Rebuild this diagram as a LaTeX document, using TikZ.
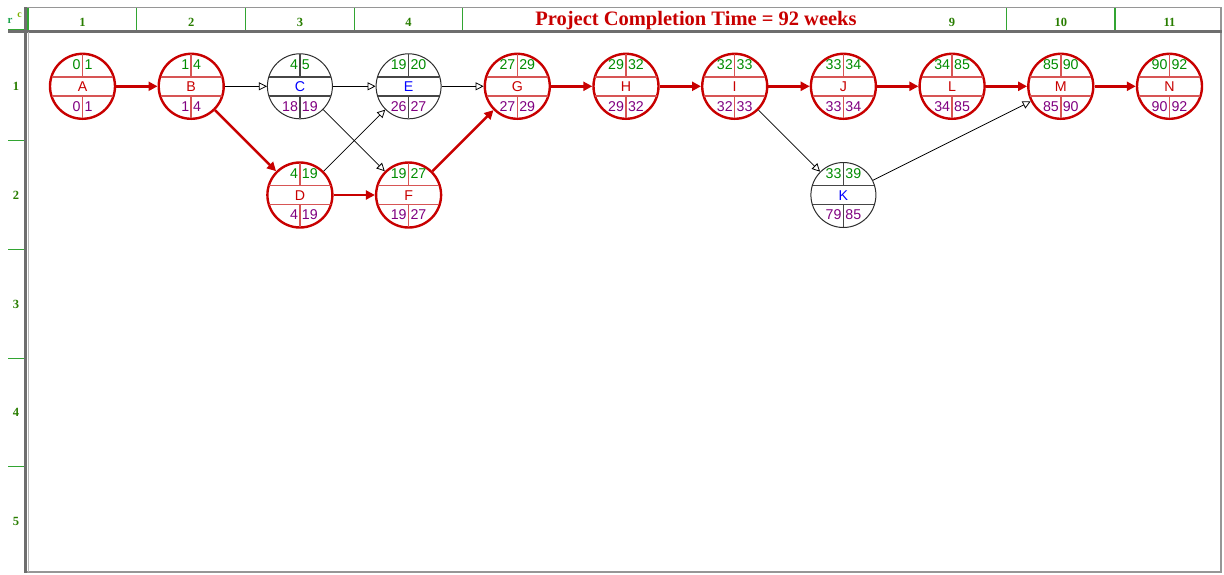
\documentclass[tikz,border=0pt]{standalone}
\usepackage{fontspec}
\setmainfont{Liberation Serif}
\setsansfont{Liberation Sans}
\usetikzlibrary{arrows.meta,calc}

\definecolor{critred}{RGB}{200,0,0}
\definecolor{critinner}{RGB}{215,85,85}
\definecolor{freeline}{RGB}{45,45,45}
\definecolor{freeinner}{RGB}{70,70,70}
\definecolor{esgreen}{RGB}{0,140,0}
\definecolor{lspurple}{RGB}{128,0,128}
\definecolor{actblue}{RGB}{0,0,255}
\definecolor{rulergreen}{RGB}{40,125,0}
\definecolor{cellgreen}{RGB}{50,165,50}
\definecolor{framegray}{RGB}{110,110,110}
\definecolor{edgegray}{RGB}{150,150,150}

\tikzset{
  critcirc/.style={circle,draw=critred,line width=2.4pt,minimum size=65pt,inner sep=0pt},
  freecirc/.style={circle,draw=freeline,line width=1pt,minimum size=65pt,inner sep=0pt},
  critgrid/.style={draw=critinner,line width=1.5pt},
  freegrid/.style={draw=freeinner,line width=1.6pt},
  critletter/.style={text=critred},
  freeletter/.style={text=actblue},
  numtxt/.style={inner sep=0pt,font=\sffamily\fontsize{14.2}{15}\selectfont},
  critedge/.style={draw=critred,line width=2.6pt,-{Triangle[length=9pt,width=9pt]}},
  freeedge/.style={draw=black,line width=0.8pt,-{Triangle[open,length=8pt,width=8pt]}},
  ruler/.style={text=rulergreen,inner sep=0pt,font=\bfseries\fontsize{12.5}{13}\selectfont},
}

% activity circle: name, x, y, letter, ES, EF, LS, LF, kind (crit|free)
\newcommand{\actnode}[9]{%
  \node[#9circ] (#1) at (#2,#3) {};
  \draw[#9grid] ($(#1)+(-30.6,-9.5)$) -- ($(#1)+(30.6,-9.5)$)
    ($(#1)+(-30.6,9.5)$) -- ($(#1)+(30.6,9.5)$)
    ($(#1)+(0,-32)$) -- ($(#1)+(0,-9.5)$)
    ($(#1)+(0,9.5)$) -- ($(#1)+(0,32)$);
  \node[numtxt,#9letter,anchor=base] (#1-t) at ($(#1)+(0,5.5)$) {#4};
  \node[numtxt,text=esgreen,anchor=base east] (#1-es) at ($(#1)+(-1.8,-16.5)$) {#5};
  \node[numtxt,text=esgreen,anchor=base west] (#1-ef) at ($(#1)+(1.8,-16.5)$) {#6};
  \node[numtxt,text=lspurple,anchor=base east] (#1-ls) at ($(#1)+(-1.8,24.8)$) {#7};
  \node[numtxt,text=lspurple,anchor=base west] (#1-lf) at ($(#1)+(1.8,24.8)$) {#8};
}

\begin{document}
\begin{tikzpicture}[x=1pt,y=-1pt]
\useasboundingbox (0,0) rectangle (1224,574);

% ---- sheet frame and column header ----
\draw[edgegray,line width=1.2pt] (27,7.5) -- (1221,7.5);
\draw[edgegray,line width=1.5pt] (1221,7) -- (1221,572.5);
\draw[edgegray,line width=2pt] (24,572) -- (1222,572);
\draw[framegray,line width=3pt] (8,31) -- (1222,31);
\draw[cellgreen,line width=1pt] (8,29.5) -- (24,29.5);
\draw[framegray,line width=3.5pt] (25.5,7) -- (25.5,573);
\draw[edgegray!70,line width=1pt] (28.3,32) -- (28.3,572);
\foreach \k in {0,1,2,3,4,9,10}
  \draw[cellgreen,line width=1.1pt] ({28+108.7*\k},8) -- ({28+108.7*\k},29.5);
\foreach \r in {1,2,3,4}
  \draw[cellgreen,line width=1.1pt] (8,{32+108.7*\r}) -- (24,{32+108.7*\r});

\node[ruler,text=rulergreen!70!cyan,font=\bfseries\fontsize{11}{12}\selectfont] (rlab) at (10,21) {r};
\node[ruler,text=rulergreen!60!yellow,font=\bfseries\fontsize{10}{11}\selectfont] (clab) at (19.5,15) {c};
\foreach \k in {1,2,3,4,9,10,11}
  \node[ruler,anchor=base] (col\k) at ({82.5+108.7*(\k-1)},26) {\k};
\foreach \r in {1,...,5}
  \node[ruler,anchor=base] (row\r) at (16,{86.3+108.7*(\r-1)+4.5}) {\r};

\node[text=critred,inner sep=0pt,anchor=base,font=\bfseries\fontsize{20.5}{22}\selectfont]
  (title) at (696,25.5) {Project Completion Time = 92 weeks};

% ---- activity network ----
\actnode{A}{82.5}{86.3}{A}{0}{1}{0}{1}{crit}
\actnode{B}{191.2}{86.3}{B}{1}{4}{1}{4}{crit}
\actnode{C}{299.9}{86.3}{C}{4}{5}{18}{19}{free}
\actnode{E}{408.6}{86.3}{E}{19}{20}{26}{27}{free}
\actnode{G}{517.3}{86.3}{G}{27}{29}{27}{29}{crit}
\actnode{H}{626}{86.3}{H}{29}{32}{29}{32}{crit}
\actnode{I}{734.7}{86.3}{I}{32}{33}{32}{33}{crit}
\actnode{J}{843.4}{86.3}{J}{33}{34}{33}{34}{crit}
\actnode{L}{952.1}{86.3}{L}{34}{85}{34}{85}{crit}
\actnode{M}{1060.8}{86.3}{M}{85}{90}{85}{90}{crit}
\actnode{N}{1169.5}{86.3}{N}{90}{92}{90}{92}{crit}
\actnode{D}{299.9}{195}{D}{4}{19}{4}{19}{crit}
\actnode{F}{408.6}{195}{F}{19}{27}{19}{27}{crit}
\actnode{K}{843.4}{195}{K}{33}{39}{79}{85}{free}

% precedence links
\draw[critedge] (A) -- (B);
\draw[freeedge] (B) -- (C);
\draw[critedge] (B) -- (D);
\draw[freeedge] (C) -- (E);
\draw[freeedge] (C) -- (F);
\draw[freeedge] (D) -- (E);
\draw[critedge] (D) -- (F);
\draw[freeedge] (E) -- (G);
\draw[critedge] (F) -- (G);
\draw[critedge] (G) -- (H);
\draw[critedge] (H) -- (I);
\draw[critedge] (I) -- (J);
\draw[freeedge] (I) -- (K);
\draw[critedge] (J) -- (L);
\draw[freeedge] (K) -- (M);
\draw[critedge] (L) -- (M);
\draw[critedge] (M) -- (N);
\end{tikzpicture}
\end{document}
